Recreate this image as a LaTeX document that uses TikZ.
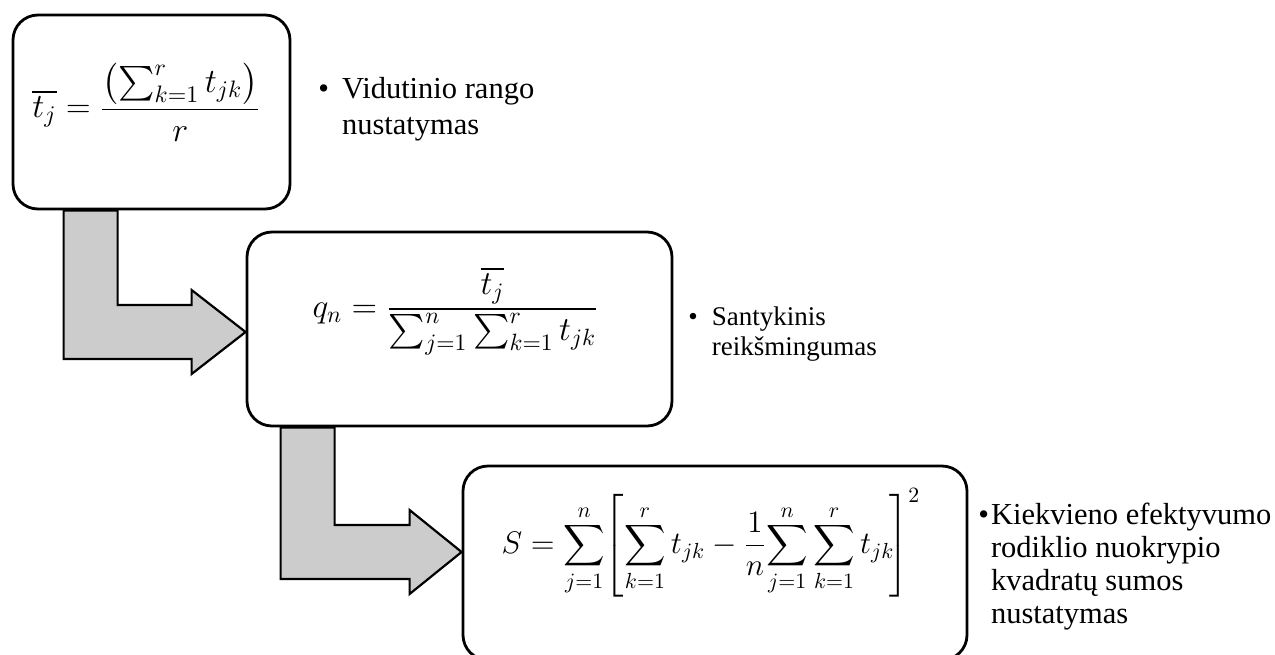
\RequirePackage{fix-cm}
\documentclass[tikz,border=0pt]{standalone}
\usepackage{amsmath}
\usepackage{fontspec}
\setmainfont{Liberation Serif}
\usetikzlibrary{calc}

\begin{document}
\begin{tikzpicture}[x=0.5pt, y=-0.5pt]
  \tikzstyle{stage}=[draw, fill=white, line width=1.4pt, rounded corners=12.5pt, inner sep=0pt]
  \tikzstyle{bent}=[draw, fill=gray!40, line width=1.1pt, line join=miter]
  \tikzstyle{eqn}=[inner sep=0pt]
  \tikzstyle{note}=[anchor=base west, inner sep=0pt]

  \clip (0,0) rectangle (1275,654);

  \node[stage, minimum width=138.5pt, minimum height=97pt] (b1) at (151.5,112) {};
  \node[stage, minimum width=212.5pt, minimum height=97pt] (b2) at (459.5,329) {};
  \node[stage, minimum width=252pt, minimum height=97pt] (b3) at (715,563) {};

  \node[eqn, font=\fontsize{17}{20}\selectfont] (e1) at ($(b1.center)+(-5,-10)$)
    {$\displaystyle \overline{t_j} = \frac{\bigl(\sum_{k=1}^{r} t_{jk}\bigr)}{r}$};
  \node[eqn, font=\fontsize{16.8}{20}\selectfont] (e2) at ($(b2.center)+(-4,-18)$)
    {$\displaystyle q_n = \frac{\overline{t_j}}{\sum_{j=1}^{n}\sum_{k=1}^{r} t_{jk}}$};
  \node[eqn, font=\fontsize{15.6}{18}\selectfont] (e3) at ($(b3.center)+(-4,-20)$)
    {$\displaystyle S = \sum_{j=1}^{n}\!\left[\sum_{k=1}^{r} t_{jk} - \frac{1}{n}\!\sum_{j=1}^{n}\sum_{k=1}^{r} t_{jk}\!\right]^2$};

  \coordinate (tip1) at ($(b2.west)+(0,3)$);
  \draw[bent] (tip1) -- ++(-54,-42) -- ++(0,15) -- ++(-74,0) coordinate (c1)
    -- (c1 |- b1.south) -- ++(-54,0) coordinate (c2)
    -- ($(c2 |- tip1)+(0,27)$) -- ++(128,0) -- ++(0,15) -- cycle;

  \coordinate (tip2) at ($(b3.west)+(0,-11)$);
  \draw[bent] (tip2) -- ++(-52,-42) -- ++(0,15) -- ++(-75,0) coordinate (c3)
    -- (c3 |- b2.south) -- ++(-54,0) coordinate (c4)
    -- ($(c4 |- tip2)+(0,27)$) -- ++(129,0) -- ++(0,15) -- cycle;

  \node[note, font=\fontsize{15.25}{18}\selectfont] (n1) at (318,98)
    {\begin{tabular}[t]{@{}l@{\hspace{6.5pt}}l@{}}\textbullet & Vidutinio rango\\ & nustatymas\end{tabular}};
  \node[note, font=\fontsize{13.5}{15}\selectfont] (n2) at (688,325)
    {\begin{tabular}[t]{@{}l@{\hspace{7pt}}l@{}}\textbullet & Santykinis\\ & reikšmingumas\end{tabular}};
  \node[note, font=\fontsize{15.25}{16.5}\selectfont] (n3) at (978,524)
    {\begin{tabular}[t]{@{}l@{\hspace{1pt}}l@{}}\textbullet & Kiekvieno efektyvumo\\ & rodiklio nuokrypio\\ & kvadratų sumos\\ & nustatymas\end{tabular}};
\end{tikzpicture}
\end{document}
